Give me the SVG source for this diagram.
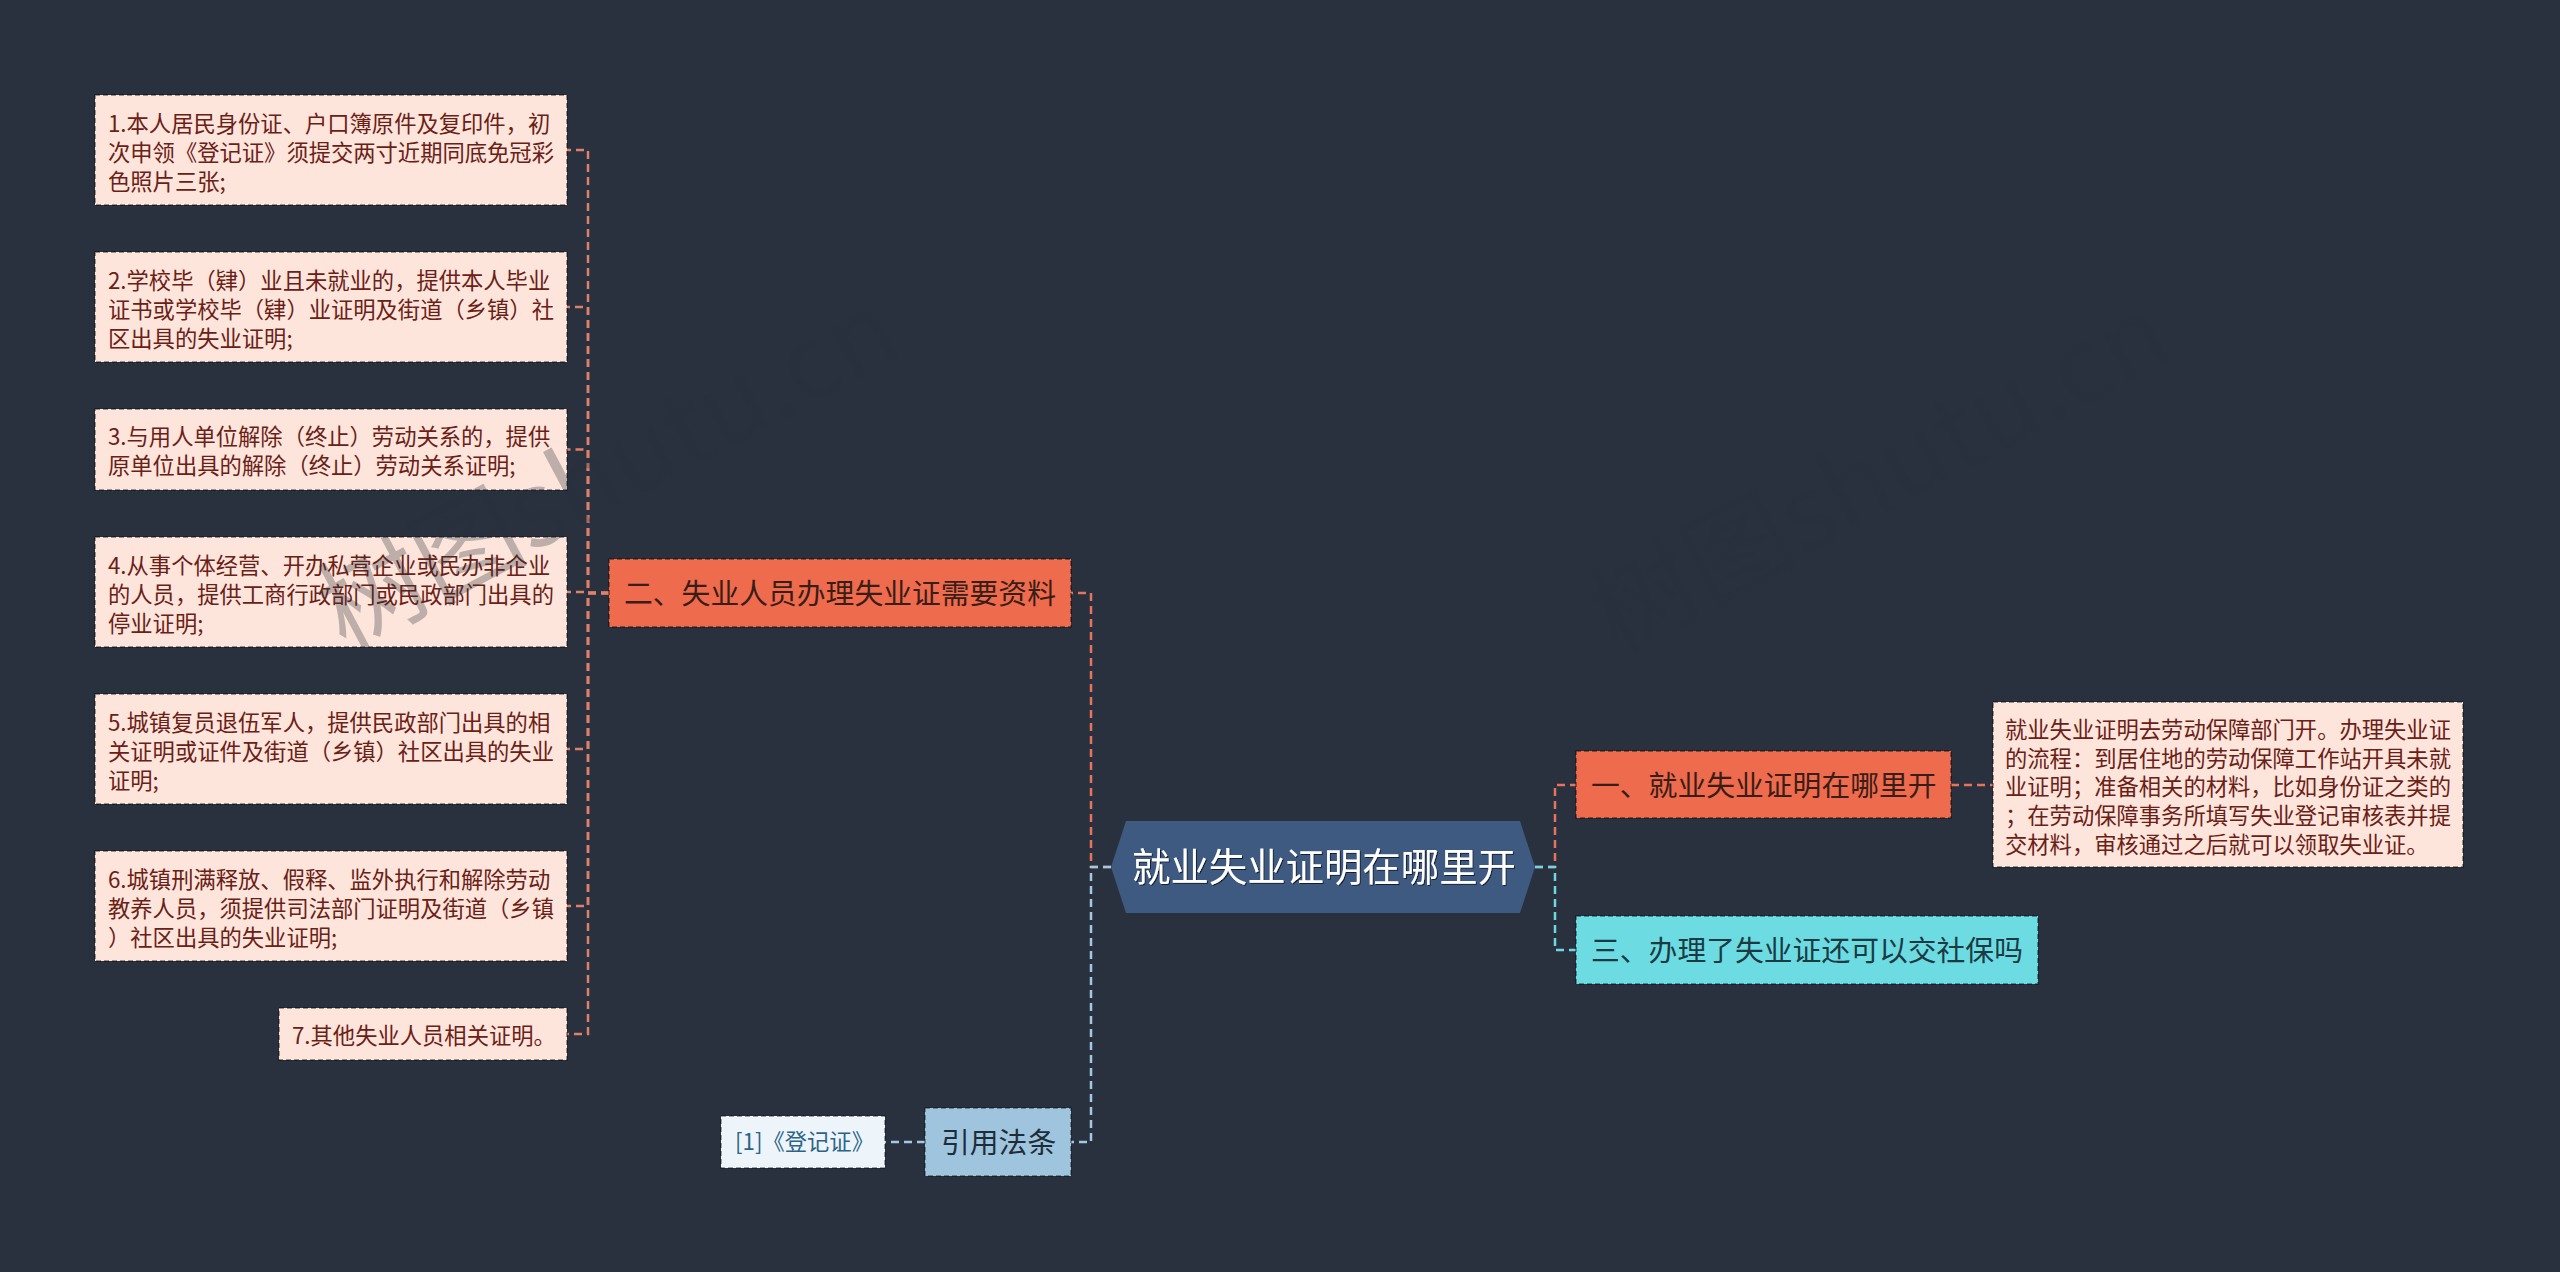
<svg xmlns="http://www.w3.org/2000/svg" width="2560" height="1272" viewBox="0 0 2560 1272">
<defs>
<style>
text{font-family:"Noto Sans CJK SC","Noto Sans",sans-serif;}
.leaf rect{fill:#FDE5DC;stroke:#000;stroke-opacity:0.5;stroke-width:1.5;stroke-dasharray:5 3;}
.leaf text{font-size:22.3px;fill:#6B2016;}
.org rect{fill:#EE6B4D;stroke:#000;stroke-opacity:0.5;stroke-width:1.5;stroke-dasharray:5 3;}
.org text{font-size:28.8px;fill:#3A1D16;}
.cyan rect{fill:#6CDCE2;stroke:#000;stroke-opacity:0.5;stroke-width:1.5;stroke-dasharray:5 3;}
.cyan text{font-size:28.8px;fill:#1B3A42;}
.cite rect{fill:#9EC4DE;stroke:#000;stroke-opacity:0.45;stroke-width:1.5;stroke-dasharray:5 3;}
.cite text{font-size:28.8px;fill:#1E2D3A;}
.ref rect{fill:#EEF5FA;stroke:#000;stroke-opacity:0.45;stroke-width:1.5;stroke-dasharray:5 3;}
.ref text{font-size:22.3px;fill:#2B6489;}
.root text{font-size:38.4px;fill:#FFFFFF;}
.c{fill:none;stroke-width:2.5;stroke-dasharray:8 5;}
.co{stroke:#E8735A;}
.cp{stroke:#E0806A;}
.cc{stroke:#6FD8DE;}
.cb{stroke:#A4C7E2;}
.wm{font-size:105px;fill:#2C3038;fill-opacity:0.3;}
</style>
<filter id="sh" x="-5%" y="-20%" width="110%" height="140%">
<feDropShadow dx="1" dy="1" stdDeviation="0.6" flood-color="#10182a" flood-opacity="0.9"/>
</filter>
</defs>
<rect width="2560" height="1272" fill="#29313F"/>

<g id="connectors">
<path class="c co" d="M1111 867 H1091 V593 H1071"/>
<path class="c cb" d="M1111 867 H1091 V1142 H1071"/>
<path class="c co" d="M1535 867 H1555 V785 H1576"/>
<path class="c cc" d="M1535 867 H1555 V950 H1576"/>
<path class="c co" d="M1951 785 H1993"/>
<path class="c cb" d="M925 1142 H885"/>
<path class="c cp" d="M609 593 H588 V150 H567"/>
<path class="c cp" d="M609 593 H588 V307 H567"/>
<path class="c cp" d="M609 593 H588 V449.5 H567"/>
<path class="c cp" d="M609 593 H588 V592 H567"/>
<path class="c cp" d="M609 593 H588 V749 H567"/>
<path class="c cp" d="M609 593 H588 V906 H567"/>
<path class="c cp" d="M609 593 H588 V1034 H567"/>
</g>

<g id="root" class="root">
<polygon points="1111,867 1126,821 1520,821 1535,867 1520,913 1126,913" fill="#3E5A80"/>
<text x="1132" y="881" filter="url(#sh)">就业失业证明在哪里开</text>
</g>

<g id="n2" class="org">
<rect x="609" y="559" width="462" height="68"/>
<text x="624" y="604">二、失业人员办理失业证需要资料</text>
</g>

<g id="n1" class="org">
<rect x="1576" y="751" width="375" height="67"/>
<text x="1591" y="795.5">一、就业失业证明在哪里开</text>
</g>

<g id="n3" class="cyan">
<rect x="1576" y="916" width="462" height="68"/>
<text x="1591" y="961">三、办理了失业证还可以交社保吗</text>
</g>

<g id="n1a" class="leaf">
<rect x="1993" y="702" width="470" height="165"/>
<text x="2005" y="738.2">就业失业证明去劳动保障部门开。办理失业证</text>
<text x="2005" y="766.8">的流程：到居住地的劳动保障工作站开具未就</text>
<text x="2005" y="795.4">业证明；准备相关的材料，比如身份证之类的</text>
<text x="2005" y="824">；在劳动保障事务所填写失业登记审核表并提</text>
<text x="2005" y="852.6">交材料，审核通过之后就可以领取失业证。</text>
</g>

<g id="l1" class="leaf">
<rect x="95" y="95" width="472" height="110"/>
<text x="108" y="132.4">1.本人居民身份证、户口簿原件及复印件，初</text>
<text x="108" y="161">次申领《登记证》须提交两寸近期同底免冠彩</text>
<text x="108" y="189.6">色照片三张;</text>
</g>

<g id="l2" class="leaf">
<rect x="95" y="252" width="472" height="110"/>
<text x="108" y="289.4">2.学校毕（肄）业且未就业的，提供本人毕业</text>
<text x="108" y="318">证书或学校毕（肄）业证明及街道（乡镇）社</text>
<text x="108" y="346.6">区出具的失业证明;</text>
</g>

<g id="l3" class="leaf">
<rect x="95" y="409" width="472" height="81"/>
<text x="108" y="445.2">3.与用人单位解除（终止）劳动关系的，提供</text>
<text x="108" y="473.8">原单位出具的解除（终止）劳动关系证明;</text>
</g>

<g id="l4" class="leaf">
<rect x="95" y="537" width="472" height="110"/>
<text x="108" y="574.4">4.从事个体经营、开办私营企业或民办非企业</text>
<text x="108" y="603">的人员，提供工商行政部门或民政部门出具的</text>
<text x="108" y="631.6">停业证明;</text>
</g>

<g id="l5" class="leaf">
<rect x="95" y="694" width="472" height="110"/>
<text x="108" y="731.4">5.城镇复员退伍军人，提供民政部门出具的相</text>
<text x="108" y="760">关证明或证件及街道（乡镇）社区出具的失业</text>
<text x="108" y="788.6">证明;</text>
</g>

<g id="l6" class="leaf">
<rect x="95" y="851" width="472" height="110"/>
<text x="108" y="888.4">6.城镇刑满释放、假释、监外执行和解除劳动</text>
<text x="108" y="917">教养人员，须提供司法部门证明及街道（乡镇</text>
<text x="108" y="945.6">）社区出具的失业证明;</text>
</g>

<g id="l7" class="leaf">
<rect x="279" y="1008" width="288" height="52"/>
<text x="292" y="1044">7.其他失业人员相关证明。</text>
</g>

<g id="cite" class="cite">
<rect x="925" y="1108" width="146" height="68"/>
<text x="941" y="1153">引用法条</text>
</g>

<g id="ref1" class="ref">
<rect x="721" y="1116" width="164" height="52"/>
<text x="735" y="1150">[1]《登记证》</text>
</g>

<g id="watermark">
<text class="wm" transform="translate(345 652) rotate(-28)">树图shutu.cn</text>
<text class="wm" transform="translate(1616 656) rotate(-28)">树图shutu.cn</text>
</g>
</svg>
